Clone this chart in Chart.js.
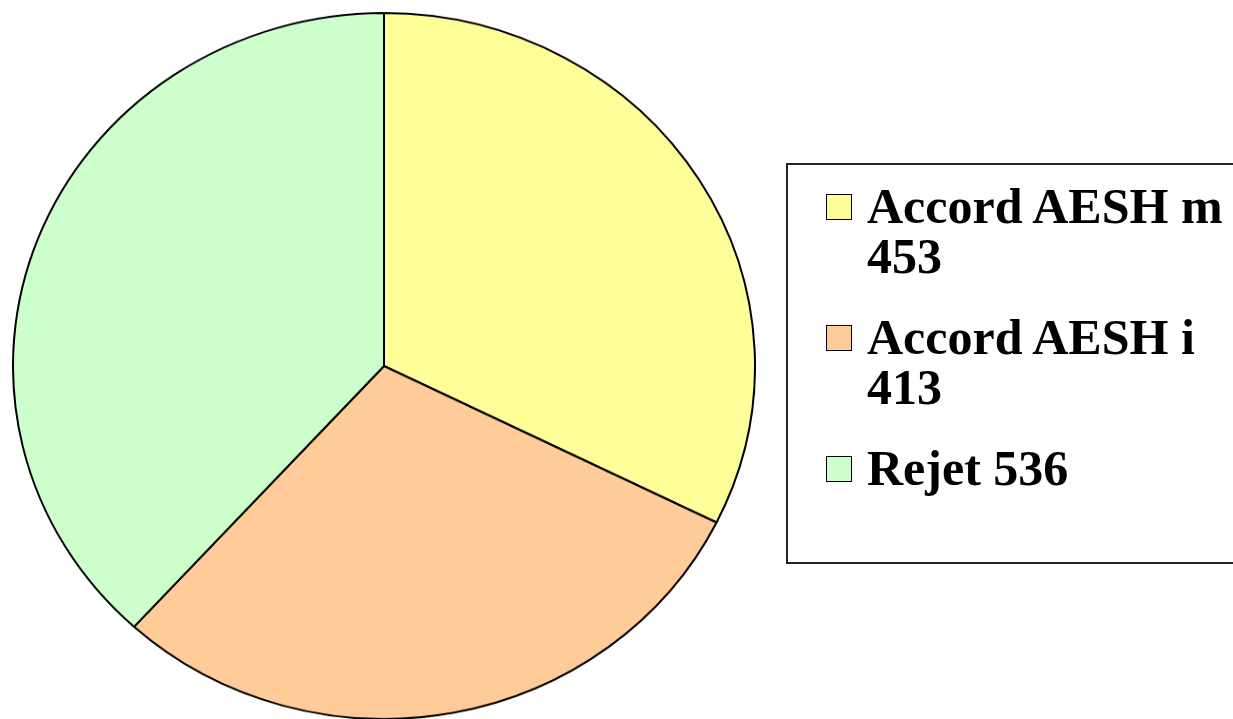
<!DOCTYPE html>
<html lang="fr">
<head>
<meta charset="utf-8">
<script src="https://cdn.jsdelivr.net/npm/chart.js@4/dist/chart.umd.min.js"></script>
<style>
    html, body { margin: 0; padding: 0; background: #fff; width: 1233px; height: 719px; overflow: hidden; }
    #cadre-camembert {
        position: absolute; left: 12px; top: -6px; width: 744px; height: 744px;
        transform: scaleY(0.9515); transform-origin: 50% 50%;
    }
    #legende {
        position: absolute; left: 786px; top: 163px; width: 470px; height: 397px;
        border: 2px solid #222; box-sizing: content-box;
        font-family: "Liberation Serif", "Times New Roman", serif; font-weight: bold;
        font-size: 50px; line-height: 50px; color: #000;
    }
    #legende ul { list-style: none; margin: 0; padding: 16px 0 0 38px; }
    #legende li { display: flex; align-items: flex-start; margin-bottom: 31px; }
    #legende .case { flex: none; width: 24px; height: 24px; border: 1.5px solid #000; margin: 13px 15px 0 0; }
    #legende .texte { width: 368px; }
</style>
</head>
<body>
<div id="cadre-camembert"><canvas id="camembert"></canvas></div>
<div id="legende"><ul id="liste-legende"></ul></div>
<script>
// Données
const categories = ["Accord AESH m", "Accord AESH i", "Rejet"];
const effectifs = [453, 413, 536];
const couleurs = ["#FFFF99", "#FFCC99", "#CCFFCC"];

// Légende HTML construite à partir des éléments de légende du graphique
const legendeHtml = {
    id: "legendeHtml",
    afterUpdate(chart) {
        const liste = document.getElementById("liste-legende");
        liste.innerHTML = "";
        const items = chart.options.plugins.legend.labels.generateLabels(chart);
        items.forEach((item) => {
            const li = document.createElement("li");
            const carre = document.createElement("span");
            carre.className = "case";
            carre.style.background = item.fillStyle;
            const texte = document.createElement("span");
            texte.className = "texte";
            texte.textContent = `${item.text} ${chart.data.datasets[0].data[item.index]}`;
            li.appendChild(carre);
            li.appendChild(texte);
            liste.appendChild(li);
        });
    }
};

const ctx = document.getElementById("camembert").getContext("2d");
new Chart(ctx, {
    type: "pie",
    data: {
        labels: categories,
        datasets: [{
            data: effectifs,
            backgroundColor: couleurs,
            borderColor: "#000",
            borderWidth: 2
        }]
    },
    options: {
        responsive: true,
        maintainAspectRatio: false,
        animation: false,
        layout: { padding: 0 },
        plugins: {
            legend: { display: false },
            tooltip: { enabled: false }
        }
    },
    plugins: [legendeHtml]
});
</script>
</body>
</html>
